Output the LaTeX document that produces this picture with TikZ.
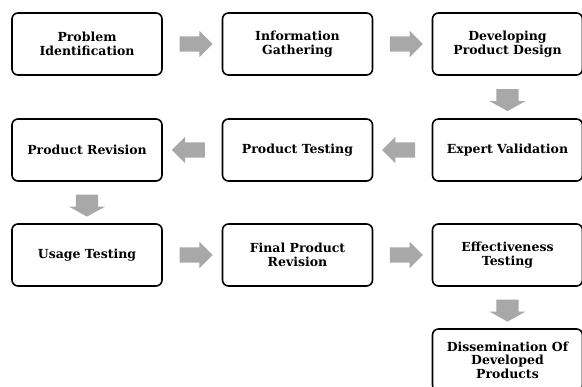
\documentclass[tikz,border=0pt]{standalone}
\usepackage{fontspec}
\setmainfont{DejaVu Serif}
\usetikzlibrary{shapes.arrows,calc}
\definecolor{arrowgray}{HTML}{A8A8A8}
\tikzset{
  box/.style={draw=black, line width=1.6pt, rounded corners=6pt, minimum width=150pt, minimum height=62pt,
    align=center, font=\fontsize{12.5}{13.5}\selectfont\bfseries, inner sep=2pt},
  blockarrow/.style={single arrow, fill=arrowgray, draw=none, minimum height=33pt,
    single arrow head extend=5.5pt, single arrow tip angle=90, inner xsep=0pt, inner ysep=7.5pt},
  downarrow/.style={single arrow, fill=arrowgray, draw=none, minimum height=22pt, rotate=-90,
    single arrow head extend=7pt, single arrow tip angle=122, inner xsep=0pt, inner ysep=11pt}
}
\begin{document}
\begin{tikzpicture}[x=1pt,y=-1pt]
\useasboundingbox (0,0) rectangle (582,387);
\clip (0,0) rectangle (582,387);
\node[box] (pi) at (87,44) {Problem\\Identification};
\node[box] (ig) at (297.5,44) {Information\\Gathering};
\node[box] (dp) at (507.5,44) {Developing\\Product Design};
\node[box] (ev) at (507.5,150) {Expert Validation};
\node[box] (pt) at (297.5,150) {Product Testing};
\node[box] (pr) at (87,150) {Product Revision};
\node[box] (ut) at (87,255) {Usage Testing};
\node[box] (fr) at (297.5,255) {Final Product\\Revision};
\node[box] (et) at (507.5,255) {Effectiveness\\Testing};
\node[box] (dd) at (507.5,360) {Dissemination Of\\Developed\\Products};
\node[blockarrow] (a1) at ($(pi.east)!0.5!(ig.west)$) {};
\node[blockarrow] (a2) at ($(ig.east)!0.5!(dp.west)$) {};
\node[downarrow] (a3) at ($(dp.south)!0.5!(ev.north)$) {};
\node[blockarrow, rotate=180] (a4) at ($(ev.west)!0.5!(pt.east)$) {};
\node[blockarrow, rotate=180] (a5) at ($(pt.west)!0.5!(pr.east)$) {};
\node[downarrow] (a6) at ($(pr.south)!0.5!(ut.north)$) {};
\node[blockarrow] (a7) at ($(ut.east)!0.5!(fr.west)$) {};
\node[blockarrow] (a8) at ($(fr.east)!0.5!(et.west)$) {};
\node[downarrow] (a9) at ($(et.south)!0.5!(dd.north)$) {};
\end{tikzpicture}
\end{document}
